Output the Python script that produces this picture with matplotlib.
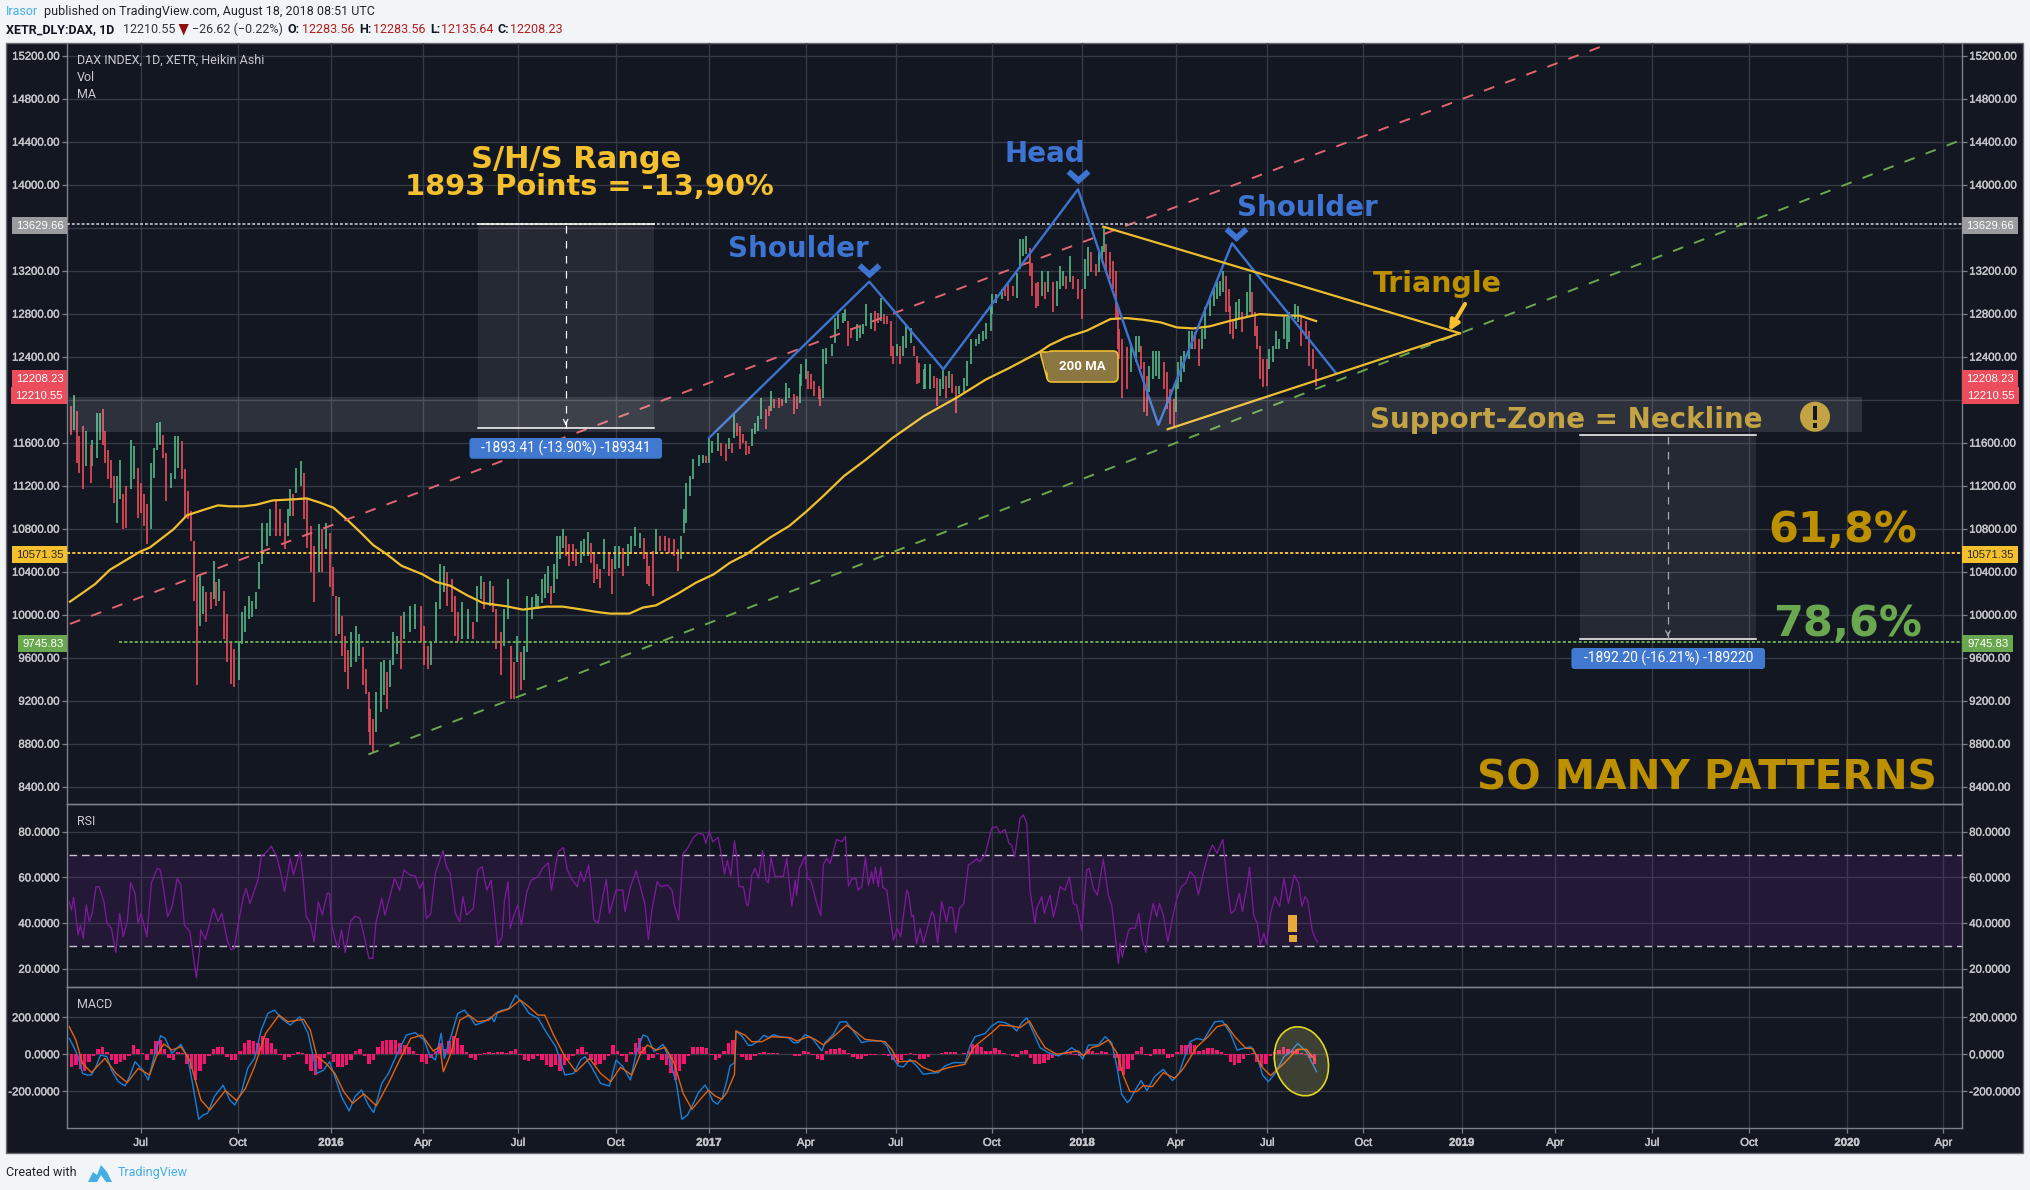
import numpy as np
import matplotlib
matplotlib.use("Agg")
import matplotlib.pyplot as plt
import matplotlib.patheffects as pe
from matplotlib.patches import Rectangle, Circle, Ellipse, FancyBboxPatch, Polygon

W, H = 2030, 1190

# ---------- time axis (trading-bar index) ----------
month_ticks = [49.7, 115.5, 178.4, 240.5, 304.7, 370.7, 433.8, 499.1, 559.9, 624.8, 686.0, 749.1,
               811.0, 875.9, 942.4, 1005.4, 1071.0, 1136.5, 1202.9, 1267.8]
month_labels = ["Jul", "Oct", "2016", "Apr", "Jul", "Oct", "2017", "Apr", "Jul", "Oct", "2018", "Apr",
                "Jul", "Oct", "2019", "Apr", "Jul", "Oct", "2020", "Apr"]
price_ticks = list(range(8400, 15201, 400))
rsi_ticks = [20, 40, 60, 80]
macd_ticks = [-200, 0, 200]

# ---------- candles ----------
candle_bar = [
    3, 5, 7, 8, 11, 13, 16, 17, 20, 22,
    24, 26, 28, 30, 32, 34, 36, 38, 40, 43,
    45, 48, 50, 52, 54, 57, 59, 61, 63, 65,
    67, 70, 73, 75, 78, 80, 82, 84, 86, 88,
    90, 92, 94, 97, 99, 101, 103, 106, 108, 111,
    113, 116, 118, 120, 123, 125, 128, 130, 132, 135,
    137, 141, 144, 147, 149, 151, 153, 155, 158, 160,
    162, 165, 167, 170, 172, 175, 178, 180, 182, 184,
    186, 188, 190, 192, 195, 197, 200, 202, 204, 205,
    207, 209, 212, 214, 216, 218, 220, 223, 226, 228,
    232, 235, 239, 241, 244, 246, 249, 252, 255, 257,
    260, 262, 264, 267, 271, 274, 277, 280, 282, 286,
    288, 290, 293, 295, 298, 300, 302, 304, 307, 309,
    311, 314, 317,
    318, 321, 323, 325, 327, 329, 331, 333, 335, 337,
    339, 342, 344, 347, 349, 352, 354, 356, 358, 360,
    363, 366, 368, 370, 373, 376, 379, 381, 384, 387,
    390, 392, 393, 396, 398, 401, 404, 407, 410, 413,
    415, 417, 418, 421, 423, 427, 430, 432, 434, 436,
    440, 442, 445, 447, 449, 451, 453, 455, 457, 459,
    461, 463, 465, 467, 469, 472, 474, 476, 478, 481,
    483, 486, 488, 491, 493, 495, 496, 499, 501, 503,
    505, 508, 509, 511, 513, 517, 519, 521, 524, 526,
    528, 530, 534, 536, 538, 540, 543, 546, 548, 550,
    552, 554, 557, 558, 561, 563, 565, 567, 570, 572,
    574, 576, 579, 580, 583, 586, 588, 590, 592, 594,
    596, 598, 601, 603, 606, 608, 611, 614, 616, 619,
    621, 624, 625, 628, 632, 634, 636, 639, 642, 644,
    646, 648, 651, 652, 655,
    656, 659, 661, 663, 666, 669, 671, 673, 675, 678,
    680, 683, 686, 688, 690, 692, 695, 697, 699, 701,
    702, 705, 707, 709, 710, 711, 713, 716, 719, 722,
    724, 726, 728, 730, 731, 734, 736, 738, 741, 743,
    745, 748, 749, 751, 753, 755, 758, 760, 762, 765,
    767, 769, 772, 775, 777, 779, 781, 783, 785, 786,
    788, 790, 792, 794, 797, 799, 801, 803, 804, 806,
    808, 811, 812, 815, 817, 819, 822, 824, 826, 830,
    832, 834, 837, 839, 842, 844]
candle_high = [
    11938, 12046, 11891, 11660, 11752, 11706, 11582, 11629, 11876, 11876,
    11913, 11706, 11536, 11443, 11289, 11289, 11443, 11119, 11196, 11629,
    11567, 11366, 11227, 11119, 11026, 11413, 11552, 11783, 11789, 11675,
    11505, 11320, 11660, 11660, 11613, 11351, 11150, 10965, 10686, 10362,
    10377, 10269, 10207, 10207, 10501, 10300, 10331, 10223, 10007, 9744,
    9682, 9759, 10022, 10084, 10177, 10130, 10207, 10486, 10856, 10856,
    10980, 11057, 10980, 10856, 10980, 11165, 11119, 11366, 11428, 11320,
    11073, 10825, 10640, 10841, 10795, 10856, 10764, 10439, 10177, 10161,
    9991, 9806, 9667, 9837, 9898, 9821, 9697, 9497, 9280, 9126,
    9033, 9280, 9558, 9574, 9466, 9574, 9837, 9806, 9991, 10022,
    10084, 10099, 10084, 9898, 9713, 9744, 10115, 10470, 10455, 10393,
    10331, 10177, 10022, 10115, 10053, 9929, 10269, 10362, 10300, 10315,
    10269, 10053, 9837, 10053, 10331, 9713, 9558, 9806, 9651, 9713,
    10177, 10161, 10192,
    10174, 10329, 10376, 10453, 10267, 10468, 10732, 10732, 10794, 10732,
    10655, 10655, 10608, 10686, 10701, 10769, 10670, 10561, 10469, 10422,
    10701, 10561, 10515, 10639, 10639, 10623, 10655, 10732, 10819, 10763,
    10717, 10577, 10453, 10592, 10794, 10732, 10732, 10717, 10701, 10608,
    10732, 10980, 11228, 11290, 11445, 11482, 11482, 11476, 11646, 11615,
    11693, 11600, 11584, 11646, 11600, 11864, 11786, 11755, 11678, 11615,
    11569, 11724, 11786, 11848, 12018, 11910, 11941, 12080, 12003, 12018,
    12003, 12158, 12112, 12050, 12034, 12236, 12329, 12375, 12267, 12236,
    12174, 12127, 12096, 12468, 12483, 12515, 12763, 12794, 12809, 12846,
    12732, 12670, 12701, 12685, 12701, 12886, 12809, 12825, 12809, 12949,
    12794, 12778, 12732, 12499, 12515, 12499, 12592, 12685, 12670, 12499,
    12406, 12344, 12282, 12329, 12329, 12220, 12205, 12189, 12298, 12220,
    12267, 12236, 12127, 12127, 12205, 12360, 12561, 12561, 12608, 12639,
    12716, 12871, 12980, 12980, 13026, 13057, 13072, 13057, 13181, 13497,
    13491, 13522, 13414, 13274, 13088,
    13091, 13200, 13091, 13200, 13091, 13106, 13246, 13200, 13153, 13339,
    13153, 13122, 13029, 13308, 13416, 13370, 13262, 13370, 13432, 13618,
    13447, 13370, 13292, 13200, 12874, 12657, 12564, 12486, 12502, 12595,
    12595, 12502, 12347, 12223, 12316, 12456, 12456, 12456, 12347, 12254,
    12099, 12006, 12161, 12347, 12409, 12456, 12642, 12642, 12626, 12564,
    12657, 12858, 12936, 13029, 13091, 13106, 13200, 13153, 13029, 12874,
    12750, 12905, 12936, 12812, 12998, 13169, 12998, 12812, 12688, 12502,
    12378, 12378, 12471, 12502, 12642, 12564, 12781, 12766, 12812, 12890,
    12874, 12766, 12735, 12642, 12471, 12285]
candle_low = [
    11675, 11722, 11413, 11320, 11165, 11382, 11227, 11382, 11459, 11629,
    11582, 11413, 11258, 11181, 11042, 10856, 11073, 10795, 10810, 11165,
    11258, 10903, 10949, 10825, 10655, 10795, 11273, 11536, 11582, 11459,
    11057, 11181, 11258, 11366, 11258, 10903, 10887, 10686, 10130, 9342,
    9898, 10007, 9929, 10053, 10146, 10084, 10130, 9775, 9558, 9358,
    9327, 9389, 9729, 9837, 9960, 9976, 10053, 10238, 10470, 10640,
    10733, 10733, 10733, 10609, 10733, 10918, 10918, 11134, 11196, 10887,
    10625, 10393, 10115, 10393, 10393, 10609, 10254, 10177, 9806, 9821,
    9620, 9466, 9311, 9512, 9558, 9620, 9342, 9265, 8910, 8786,
    8724, 8910, 9095, 9250, 9126, 9327, 9528, 9636, 9497, 9775,
    9837, 9867, 9744, 9528, 9497, 9528, 9744, 10053, 10207, 10084,
    10022, 9806, 9759, 9775, 9775, 9775, 9929, 10146, 10053, 10084,
    10022, 9682, 9435, 9713, 9960, 9219, 9219, 9558, 9296, 9389,
    9651, 9960, 10053,
    10050, 10112, 10159, 10205, 10096, 10205, 10329, 10515, 10624, 10546,
    10453, 10500, 10453, 10484, 10546, 10546, 10484, 10298, 10329, 10251,
    10422, 10360, 10190, 10422, 10438, 10360, 10453, 10577, 10639, 10623,
    10515, 10283, 10267, 10174, 10577, 10592, 10592, 10577, 10546, 10406,
    10515, 10763, 10856, 11104, 11259, 11383, 11414, 11414, 11414, 11507,
    11522, 11476, 11430, 11538, 11507, 11646, 11662, 11538, 11600, 11482,
    11491, 11569, 11678, 11708, 11817, 11724, 11848, 11894, 11925, 11925,
    11941, 11972, 12018, 11864, 11910, 11972, 12127, 12189, 12096, 12096,
    12034, 12003, 11941, 12018, 12329, 12406, 12530, 12654, 12716, 12732,
    12499, 12577, 12546, 12577, 12608, 12685, 12654, 12639, 12716, 12732,
    12701, 12701, 12406, 12329, 12406, 12329, 12406, 12484, 12530, 12406,
    12143, 12158, 12096, 12096, 12096, 12112, 11941, 12034, 12096, 12018,
    12112, 12065, 11879, 12050, 12050, 12127, 12329, 12499, 12515, 12546,
    12561, 12639, 12794, 12902, 12933, 12964, 12918, 12964, 12949, 13212,
    13336, 13352, 13150, 12964, 12856,
    12874, 12967, 12936, 13000, 12812, 12874, 13029, 13060, 13029, 13091,
    13029, 12936, 12750, 13029, 13153, 13184, 13153, 13184, 13277, 13370,
    13184, 13122, 13029, 12750, 12471, 12378, 12012, 12099, 12254, 12347,
    12440, 12285, 11882, 11851, 12068, 12192, 12223, 12192, 12099, 11913,
    11773, 11758, 11882, 12099, 12161, 12254, 12378, 12471, 12471, 12316,
    12471, 12564, 12781, 12874, 12936, 12967, 12998, 12812, 12812, 12611,
    12564, 12657, 12750, 12626, 12781, 12812, 12781, 12595, 12471, 12192,
    12114, 12130, 12285, 12347, 12471, 12471, 12564, 12471, 12533, 12750,
    12719, 12502, 12564, 12316, 12285, 12130]
candle_dir = (
    "rgrrrgrggg" "rrrrrggrrg" "grrrrggggr" "rgggrrrrrr" "ggrrgrgrrr"
    "rggggggggg" "grrrggrggr" "rrrgrgrrrg" "rrrgggrrrr" "rgggrgggrg"
    "ggrrrggggr" "rrrggrggrg" "rrrggrrgrg" "ggg"
    "ggggrggggr" "rrrgggrrrr" "grrggrgggg" "rrrrgrrrrr" "gggggggrgg"
    "grrgrgrrrr" "rggggrrgrr" "rggrrgggrr" "rrrggggggg" "rrgggggrrg"
    "rrrrgrgggr" "rrgggrrggr" "grrggggggg" "gggggrrrgg" "ggrrr"
    "rgrgrgggrg" "rrrggrrggg" "rrrrrrrrgg" "grrrggggrr" "rrggggggrr"
    "gggggggrrr" "rggrggrrrr" "rrgggggggg" "grrrrr")

# ---------- 200 MA ----------
ma_bar = [2, 11, 19, 29, 38, 49, 56, 72, 81, 92, 102, 110, 119, 128, 139, 153, 162, 171, 180, 189,
          198, 207, 216, 226, 240, 249, 259, 270, 281, 297, 308, 320, 324, 335, 347, 358, 367, 380,
          389, 398, 412, 425, 437, 448, 459, 475, 488, 500, 511, 525, 540, 558, 579, 601, 621, 637,
          657, 664, 675, 689, 705, 716, 727, 739, 750, 761, 772, 786, 799, 806, 820, 833, 844]
ma_value = [10121, 10207, 10285, 10418, 10492, 10584, 10625, 10795, 10924, 10974, 11017, 11008, 11008,
            11023, 11063, 11073, 11082, 11042, 10995, 10887, 10770, 10646, 10563, 10455, 10377, 10306,
            10269, 10183, 10109, 10078, 10047, 10068, 10075, 10075, 10050, 10025, 10010, 10010, 10066,
            10087, 10190, 10298, 10376, 10484, 10562, 10717, 10825, 10965, 11104, 11290, 11445, 11646,
            11848, 12018, 12189, 12297, 12443, 12508, 12580, 12642, 12750, 12759, 12744, 12719, 12672,
            12663, 12682, 12734, 12775, 12796, 12784, 12781, 12731]

# ---------- drawn studies ----------
channel_upper_bar = [2, 1043]
channel_upper_price = [9914, 15318]
channel_lower_bar = [203.6, 1278]
channel_lower_price = [8700, 14406]
hs_bar = [433.8, 542.1, 592.1, 683.1, 737.4, 787.2, 857.2]
hs_price = [11644, 13098, 12283, 13957, 11765, 13455, 12251]
triangle_bar = [700.2, 941.2, 743.7]
triangle_price = [13609, 12618, 11725]
level_high = 13629.66
level_618 = 10571.35
level_786 = 9745.83
zone_bars = [1.6, 1212.6]
zone_prices = [11699, 12022]
measure1_bars = [277.5, 396.4]
measure1_prices = [11736, 13629.66]
measure2_bars = [1022.0, 1141.5]
measure2_prices = [9771, 11669]

# ---------- RSI ----------
rsi_bar = [1.5, 3, 4.5, 7.5, 9, 11, 13, 15, 17, 19.6, 21.7, 25, 27, 30, 33, 35.6, 38, 40.7, 43, 46, 48, 50, 54, 57,
           61, 63, 65, 68, 71, 74.5, 77, 79.3, 83, 87.4, 89.5, 90.4, 93.5, 99, 102, 104.6, 108.5, 111, 113, 115.5,
           119, 121, 123.6, 129, 131.5, 132.7, 135.7, 138, 141.7, 144, 147, 150.8, 153, 157.4, 159.8, 161.6, 164.4,
           167, 169.8, 172.5, 175.8, 177.4, 178.6, 181, 183, 185.5, 188, 191.5, 194.6, 198, 200.6, 204, 206.6, 208.7,
           212.7, 214.8, 217.8, 221.4, 224.7, 227.7, 231.7, 235.3, 238.3, 240.7, 242.8, 245.8, 248.9, 254, 256.4,
           258.8, 262.4, 265.4, 267.5, 270, 274.5, 277.5, 280.5, 283.6, 286.6, 289, 291, 294, 295.6, 298, 299.5,
           301.6, 304.6, 307, 310.7, 313.7, 318.3, 321.2, 325.2, 327.3, 331.8, 335.5, 338, 341.5, 344.8, 347, 349.3,
           352.4, 354.4, 356, 359, 362, 364.4, 366.5, 371, 375.6, 377, 380.7, 384.6, 388, 390.6, 392.8, 395.2, 398.8,
           401.2, 405.8, 408.8, 410.3, 413.3, 416.3, 419.3, 423, 426.2,
           430, 431.6, 434, 436.3, 440, 442.4, 444.2, 446.2, 448.5, 451, 452.5, 454, 457, 459.3, 460.4, 462.7, 465,
           467.2, 470, 472.3, 473.9, 475.7, 478.4, 481.8, 484, 486.3, 489.7, 492, 493, 494.9, 498.7, 500.3, 502.5,
           504.3, 506.6, 509.3, 511, 513.3, 515.6, 520, 523.5, 526, 528, 530.2, 533, 534.5, 537, 539.5, 541.5, 543.7,
           544.9, 546.2, 548.2, 549.8, 551.2, 553.9, 556, 558.4, 561, 563.3, 567.4, 568.5, 570.8, 571.9, 574, 576.4,
           578.6, 581.3, 584.3, 585.8, 588.3, 591, 594.4, 596.2, 598.5, 600.5, 603, 606, 609, 612.4, 614.7, 616.5,
           620.3, 624.8, 628.2, 630.4, 633.8, 636.5, 638.3, 640.3, 642.8, 644, 646.2, 648.5, 650.7, 654, 655.2, 658.6,
           660.4, 662, 664.2, 666.5, 668.7, 671, 674.3, 677.3, 680, 682.2, 685.6, 689, 690.6, 693.5, 696.2, 700.2,
           703.6, 705.9, 710.4, 711.5, 713, 717,
           718.2, 721.8, 724.2, 726.6, 729, 730.9, 733.9, 736.3, 738.1, 740.8, 743.8, 746.9, 749.9, 752.9, 755.9,
           758.9, 762, 764.4, 768, 771, 774, 777, 781, 784, 786.4, 789.1, 792.1, 794.2, 797.2, 799, 801.8, 804.2,
           806.3, 808.7, 810.5, 813.2, 816.3, 819.3, 822.3, 825.3, 829.2, 832.2, 834.4, 836.5, 838.3, 841.3, 843.4,
           844.9]
rsi_value = [49.3, 45.7, 51.2, 34.8, 39.1, 33.3, 47.9, 40.6, 44.2, 55.9, 55.9, 49.3, 39.9, 37.7, 27, 44.2, 34, 40.6,
             57.7, 53, 39.9, 44.2, 34, 57.4, 64, 63.2, 55.9, 42.8, 47.2, 59.6, 56.6, 39.1, 36.2, 16, 28.2, 36.9, 32.8,
             46.4, 40.6, 44.2, 31.8, 28.2, 28.9, 39.1, 50.8, 55.2, 48.6, 58.8, 69.8, 69.8, 71.7, 73.7, 69, 63.2, 53.7,
             68.3, 61, 71.2, 57.4, 42.8, 39.9, 31.8, 49.3, 43.5, 53, 53, 39.9, 33.3, 28.9, 36.9, 27, 40.6, 43, 42,
             34.8, 24.5, 24.5, 39.9, 50.8, 43.5, 50.8, 59.6, 54.4, 63.2, 61, 60.6, 55.2, 58.1, 42, 44.2, 61.8, 71.7,
             64.7, 61.8, 44.2, 40.6, 51.5, 43.5, 46.4, 63.2, 64.7, 54.4, 58.8, 44.2, 30.4, 34, 50, 58.1, 37.7, 42.8,
             47.9, 39.1, 53.7, 58.8, 60.3, 63.9, 66.4, 54.4, 71.2, 73.1, 63.2, 58.8, 55.9, 62.5, 58.1, 65.4, 54.4,
             41.3, 39.9, 51.5, 59.1, 44.2, 54.4, 54.4, 45, 55.9, 62.9, 54.4, 47.9, 32.8, 45.7, 58.1, 55.9, 56.6, 54.4,
             47.9, 41.3, 70.5, 72.7, 77.1, 79.3,
             78.8, 74.9, 80.3, 75.6, 77.5, 69, 61.4, 67.3, 60.5, 76, 69, 55.9, 55.9, 47.8, 47.8, 61, 63.9, 59.5, 71.7,
             58.8, 57.6, 68.7, 60.3, 60.5, 60.3, 68.3, 47.4, 58.8, 52.2, 63.9, 69.3, 59.5, 58.8, 54.4, 48.5, 43.1, 65.4,
             68.3, 66.1, 76.6, 75.6, 77.8, 56.2, 59.2, 59.5, 54.4, 55.9, 68.7, 56.6, 62.4, 57.3, 64.6, 55.9, 64.6, 55.6,
             54.4, 44.2, 32.5, 37.6, 33.9, 54.4, 52.9, 42.7, 43.4, 31, 37.6, 31.3, 37.6, 44.9, 43.4, 31.3, 49.3, 40.5,
             47.1, 46.4, 35.8, 46.4, 48.5, 65.4, 66.8, 68.3, 66.8, 69.8, 81.5, 82.2, 79.3, 81, 74.9, 74.1, 69, 80.7,
             85.9, 87.3, 83.7, 54.4, 39.8, 46.4, 51.5, 44.2, 47.8, 52.2, 42.7, 48.5, 55.9, 54.4, 60.3, 48.5, 47.8, 36.8,
             63.2, 63.9, 55.1, 52.2, 67.9, 52.2, 47.8, 22.2, 31, 25.1, 36.1,
             37.7, 37.7, 44.2, 32.6, 27.2, 38.4, 48.6, 42.8, 48.6, 43.5, 31.8, 42, 50.8, 55.9, 57.4, 62.5, 60.3, 52.3,
             62.5, 69.8, 74.2, 70.5, 76.6, 56.6, 44.2, 45.7, 53, 45, 55.9, 64.4, 43.5, 39.9, 30.4, 35.5, 30.8, 44.2,
             51.5, 47.2, 59.6, 48.6, 61, 57.4, 47.2, 51.5, 50, 36.9, 33.3, 31.8]

# ---------- MACD ----------
macd_bar = [1.5, 4.5, 7.5, 10.5, 13.5, 16.5, 19.6, 22.6, 27, 30, 34.7, 39.2, 42.2, 46, 51.2, 54.9, 58.8, 63.3, 66.3,
            70.9, 76.9, 81.4, 84.4, 89, 92, 95, 99.5, 105.5, 110, 113.4, 117.6, 122.1, 126.7, 131.2, 135.7, 140.2,
            144.8, 150.8, 157.4, 162.9, 165.9, 168.9, 173.4, 177.4, 181, 185.5, 190.6, 194.6, 199, 203.6, 207.2,
            212.7, 217.2, 223.2, 229.3, 235.3, 241.3, 245, 248.9, 252.8, 254.9, 259.4, 264, 268.5, 273, 276, 282,
            286.6, 288.7, 291, 298.6, 303.2, 307.7, 312.2, 318.3, 324.3, 330.3, 336.4, 342.4, 347, 350, 354.4, 360.5,
            366.5, 371, 375.6, 380.7, 384.6, 389.2, 392.2, 396.7, 402.7, 407.3, 411.8, 415.4, 419.3, 423.8,
            426.6, 431.1, 433.4, 436.3, 439.5, 442.8, 445.8, 448, 451, 452, 455.9, 460.4, 462.7, 467.2, 471, 473.9,
            477.3, 481.8, 487.4, 490.8, 494.2, 498.7, 503.2, 506.6, 510, 512.2, 517.8, 522.3, 526.4, 531.3, 537,
            541.5, 550.5, 553.9, 557.2, 561.8, 565.1, 569.6, 574.1, 578.6, 583.1, 588.8, 593.3, 598.9, 606.8, 610.2,
            613.5, 620.3, 624.8, 629.3, 633.8, 638.3, 641.7, 645.1, 648.5, 653, 657.5, 663.1, 669.9, 674.3, 678.9,
            683.4, 686.3, 690.1, 696.9, 701.4, 705.9, 709.3, 712.6, 716.5,
            718.2, 721.2, 725.7, 729.7, 734.8, 740.8, 746.9, 751.4, 754.4, 758.9, 763.5, 768, 775.5, 780.7, 786.1,
            790.6, 799.7, 804.2, 807.8, 811.7, 816.3, 822.3, 826.8, 831.6, 837.4, 844.3]
macd_value = [86, 41, -13, -103, -112, -112, -67, -4, -13, -85, -148, -171, -121, -40, -85, -139, -13, 101, 86,
              5, 54, -13, -139, -351, -328, -319, -229, -167, -247, -274, -211, -76, -22, 131, 221, 239,
              194, 158, 203, 113, 5, -103, -85, -40, -121, -229, -306, -229, -193, -274, -315,
              -157, -103, 5, 104, 117, 77, -4, -31, 113, -22, 95, 221, 239, 194, 158, 176,
              203, 176, 230, 248, 320, 275, 221, 194, 113, 41, -112, -103, -31, -13, -67, -157,
              -171, -31, -67, -139, 5, 104, 95, 14, 54, -31, -157, -351, -328, -256,
              -207, -166, -198, -252, -270, -234, -144, -63, -45, 126, 99, 49, 49, 72, 103, 90,
              106, 95, 90, 63, 63, 106, 90, 54, 18, 63, 108, 175, 176, 126, 63,
              72, 72, 45, -9, -63, -68, -27, -63, -108, -103, -99, -63, -45, -45, 45,
              95, 112, 153, 176, 171, 153, 126, 171, 198, 117, 36, 9, -9, 9, 36,
              9, -27, 50, 50, 95, 63, -63, -216, -261,
              -247, -202, -142, -196, -121, -81, -142, -103, -31, 68, 86, 77, 176, 180, 113,
              23, 41, -13, -112, -148, -103, -13, 14, 59, 14, -94]
signal_bar = [1.5, 6, 10.5, 16.5, 25.6, 33.1, 40.7, 48.2, 55.8, 60.3, 65.4, 70.9, 76.9, 82.9, 90.5, 96.5, 101, 107,
              114.6, 120.6, 126.7, 134.2, 143.3, 149.3, 159.9, 164.4, 168.9, 175, 181, 187, 193, 200.6, 209, 217.2,
              224.7, 232.3, 239.8, 247.4, 251.9, 254.3, 259.4, 265.4, 271.5, 277.5, 285, 289.6, 298.6, 306.2, 310.7,
              318.3, 322.8, 328.8, 336.4, 343.9, 353, 360.5, 367.4, 374, 381.6, 387.6, 392.2, 398.2, 404.2, 410.3,
              416.3, 422.3,
              428.9, 433.4, 437.9, 442.4, 445.8, 451, 452, 458.2, 462.7, 469.4, 476.2, 488.6, 493.1, 500.9, 505.4,
              511.1, 517.8, 526.8, 533.6, 539.2, 552.7, 557.2, 561.8, 573, 578.6, 586.5, 595.5, 606.8, 612.4, 619.2,
              624.8, 630.4, 638.3, 643.9, 650.3, 655.2, 660.8, 668.7, 675.5, 683.4, 686.7, 692.4, 696.9, 703.6, 709.3,
              713.8,
              718.2, 722.7, 727.2, 733.3, 740.8, 748.4, 754.4, 763.5, 771, 777, 783.1, 789.1, 796.6, 801.2, 807.2,
              813.2, 822.3, 831.3, 837.4, 843.4]
signal_value = [149, 77, -49, -99, -22, -103, -153, -76, -112, -13, 56, 23, 41, -31, -247, -301, -256, -196,
                -250, -184, -67, 113, 212, 176, 189, 131, -13, -49, -103, -202, -265, -214, -279, -157,
                -31, 86, 104, 18, 41, -94, 5, 185, 212, 176, 185, 221, 245, 293, 266,
                212, 212, 104, -13, -94, -22, -103, -148, -70, -112, 5, 50, 23, 38, -49,
                -211, -297,
                -234, -194, -225, -243, -207, -108, 126, 103, 68, 68, 95, 90, 72, 95, 81,
                50, 95, 158, 117, 81, 68, 27, -40, -36, -72, -95, -72, -54, 36, 81,
                117, 158, 153, 144, 180, 108, 36, 0, 9, 18, -9, 36, 45, 77, 9,
                -117,
                -202, -202, -169, -175, -99, -130, -76, 41, 95, 149, 162, 95, 32, 32, -67,
                -115, -49, 27, 27, -31]
hist_value = [-70, -60, -80, -90, -40, -10, 30, 40, 10, -30, -50, -40, -30, -10, 50, 30, 5, -30, 30, 70,
              80, 30, -20, -30, 10, 5, -50, -80, -140, -90, -50, -10, 30, 40, 40, -15, -30, -30, 20, 60,
              80, 70, 60, 100, 90, 60, 30, -5, -30, -15, -5, 10, 5, -50, -90, -110, -80, -20, 10, -40,
              -70, -70, -60, -30, 20, 30, -10, -50, -30, 40, 70, 80, 80, 80, 60, 50, 40, 20, -5, -40,
              -50, -20, 20, 60, 30, 70, 100, 90, 50, 10, -20, -30, -5, 5, 15, 5, 10, 10, 5, 20,
              30, -5, -30, -35, -25, -10, -30, -60, -70, -60, -90, -60, -30, -10, 30, 40, 10, -30, -60, -50,
              -30, -10, 50, 20, -10, -40, 10, 60, 90, 40, -30, -20, 5, -30, -60, -100, -140, -90, -50, -10, 40,
              40, 40, 35, -5, -30, -20, 20, 60, 80, 0, -15, -30, -30, -10, 5, 15, 5, 5, 5, 2,
              2, 0, -10, -10, 20, 10, -5, -25, -30, 20, 30, 30, 35, 25, 5, -15, -25, -25, -10, -5,
              -2, 2, -2, -10, -30, -50, -30, -5, 5, -5, -25, -25, -15, 0, 2, 5, 15, 15, 10, 2,
              5, 20, 55, 50, 40, 20, 20, 35, 25, 5, 2, -10, -15, 20, 25, -20, -50, -55, -45, -30,
              -20, -10, 5, 10, 15, -5, -10, -5, 30, 20, 5, 20, 15, 0, -20, -90, -110, -80, -30, 20,
              40, -5,
              -10, 30, 30, 30, -20, -15, 10, 50, 50, 60, 50, 20, 25, 35, 35, 25, 10, -5, -40, -60,
              -45, -25, -5, 5, -40, -70, -50, -10, 10, 25, 40, 30, 25, 30, 5, -5, -20, -55]

# ---------- palette ----------
PAGE = "#f2f5f8"
PANEL = "#131722"
GRID = "#363a47"
SPINE = "#7e8088"
TICK = "#c4c5ca"
UP = "#53b987"
DOWN = "#eb4d5c"
GOLD = "#f5c02e"
DARKGOLD = "#bd9000"
LEAF = "#6aa84f"
BLUE = "#3d74d1"
LINK = "#45aee6"

plt.rcParams["font.family"] = ["Liberation Sans", "DejaVu Sans"]
fig = plt.figure(figsize=(W / 100, H / 100), dpi=100, facecolor=PAGE)
heavier = [pe.withStroke(linewidth=0.3, foreground=TICK)]


def panel(top, bottom, zorder=2):
    return fig.add_axes([67 / W, 1 - bottom / H, (1962 - 67) / W, (bottom - top) / H],
                        facecolor="none", zorder=zorder)


def full(zorder):
    a = fig.add_axes([0, 0, 1, 1], facecolor="none", zorder=zorder)
    a.set_xlim(0, W)
    a.set_ylim(H, 0)
    a.axis("off")
    return a


bg = full(0)
bg.add_patch(Rectangle((6, 43), 2017, 1110, fc=PANEL, ec="#6a6c72", lw=1))

ax = panel(43, 804)
ax_rsi = panel(804, 987)
ax_macd = panel(987, 1128)
XMAX = (1962 - 67) / 1.48
for a in (ax, ax_rsi, ax_macd):
    a.set_xlim(0, XMAX)
    a.set_xticks(month_ticks)
    a.grid(True, color=GRID, lw=0.95, zorder=0)
    a.set_axisbelow(True)
    a.tick_params(axis="y", left=True, right=True, labelleft=True, labelright=True,
                  length=3.6, width=0.9, color=SPINE, labelcolor=TICK, labelsize=8.2, pad=1.6)
    a.tick_params(axis="x", length=0, labelbottom=False)
    for s in a.spines.values():
        s.set_color(SPINE)
        s.set_linewidth(1.0)
ax.spines["top"].set_visible(False)

# ----- price panel -----
ax.set_ylim(8239, 15318)
ax.set_yticks(price_ticks)
ax.set_yticklabels([f"{v:.2f}" for v in price_ticks])

for col, key in ((UP, "g"), (DOWN, "r")):
    sel = [i for i, c in enumerate(candle_dir) if c == key]
    ax.vlines([candle_bar[i] for i in sel], [candle_low[i] for i in sel], [candle_high[i] for i in sel],
              colors=col, lw=1.2, zorder=3)
ax.plot(ma_bar, ma_value, color="#f0bf2f", lw=1.6, zorder=4)

ax.plot(channel_upper_bar, channel_upper_price, color="#e0656f", lw=1.4, ls=(0, (5.6, 6)), zorder=4)
ax.plot(channel_lower_bar, channel_lower_price, color=LEAF, lw=1.4, ls=(0, (5.6, 6)), zorder=4)
ax.plot([0, XMAX], [level_high] * 2, color="#b9babe", lw=1.3, ls=(0, (1.6, 1.1)), zorder=4)
ax.plot([0, XMAX], [level_618] * 2, color=GOLD, lw=1.4, ls=(0, (1.6, 1.1)), zorder=4)
ax.plot([35, XMAX], [level_786] * 2, color=LEAF, lw=1.4, ls=(0, (1.6, 1.1)), zorder=4)
ax.plot(hs_bar, hs_price, color=BLUE, lw=1.7, zorder=5)
ax.plot(triangle_bar[:2], triangle_price[:2], color="#ecbc30", lw=1.6, zorder=5)
ax.plot(triangle_bar[1:], triangle_price[1:], color="#ecbc30", lw=1.6, zorder=5)

ax.add_patch(Rectangle((zone_bars[0], zone_prices[0]), zone_bars[1] - zone_bars[0], zone_prices[1] - zone_prices[0],
                       fc="white", alpha=0.115, ec="none", zorder=6))
for bars, prices, dash in ((measure1_bars, measure1_prices, "white"), (measure2_bars, measure2_prices, "#a8a9ad")):
    ax.add_patch(Rectangle((bars[0], prices[0]), bars[1] - bars[0], prices[1] - prices[0],
                           fc="white", alpha=0.08, ec="none", zorder=6))
    mid = (bars[0] + bars[1]) / 2
    ax.plot(bars, [prices[0]] * 2, color="white", lw=1.1, zorder=7)
    ax.plot(bars, [prices[1]] * 2, color="white", lw=1.1, zorder=7)
    ax.plot([mid, mid], prices, color=dash, lw=0.9, ls=(0, (6, 6)), zorder=7)
    ax.annotate("", xy=(mid, prices[0]), xytext=(mid, prices[0] + 70),
                arrowprops=dict(arrowstyle="->", color=dash, lw=0.9, mutation_scale=8), zorder=7)

# ----- RSI panel -----
ax_rsi.set_ylim(11.98, 92.13)
ax_rsi.set_yticks(rsi_ticks)
ax_rsi.set_yticklabels([f"{v:.4f}" for v in rsi_ticks])
ax_rsi.axhspan(30, 70, xmin=1.5 / XMAX, color="#7b1fa2", alpha=0.16, lw=0, zorder=1)
ax_rsi.plot([1.5, XMAX], [70, 70], color="#c9c3d2", lw=1, ls=(0, (5.5, 3.5)), zorder=2)
ax_rsi.plot([1.5, XMAX], [30, 30], color="#c9c3d2", lw=1, ls=(0, (5.5, 3.5)), zorder=2)
ax_rsi.plot(rsi_bar, rsi_value, color="#7d1a9b", lw=0.95, zorder=3)

# ----- MACD panel -----
ax_macd.set_ylim(-398.4, 363.8)
ax_macd.set_yticks(macd_ticks)
ax_macd.set_yticklabels([f"{v:.4f}" for v in macd_ticks])
hist_bar = np.arange(len(hist_value)) * 3 + 3
ax_macd.bar(hist_bar, hist_value, width=2.3, color="#f5146e", lw=0, zorder=2)
ax_macd.plot(macd_bar, macd_value, color="#1a80d6", lw=1.0, zorder=3)
ax_macd.plot(signal_bar, signal_value, color="#e0630f", lw=1.0, zorder=4)
ax_macd.tick_params(axis="x", labelbottom=True, bottom=True, length=3.6, width=0.9, color=SPINE,
                    labelcolor=TICK, labelsize=8.2, pad=3.5)
ax_macd.set_xticklabels(month_labels)
for lab, text in zip(ax_macd.get_xticklabels(), month_labels):
    if text.isdigit():
        lab.set_fontweight("bold")
for a in (ax, ax_rsi, ax_macd):
    for lab in a.get_yticklabels() + a.get_yticklabels(which="major") + a.get_xticklabels():
        lab.set_path_effects(heavier)
    for t in a.yaxis.get_major_ticks():
        t.label2.set_path_effects(heavier)

# ----- overlay: tags, texts, marks -----
fg = full(10)
ROB = "Roboto"
DJ = "DejaVu Sans"


def tag(x0, x1, y0, y1, text, fc, tc="white"):
    fg.add_patch(Rectangle((x0, y0), x1 - x0, y1 - y0, fc=fc, ec="none"))
    fg.text((x0 + x1) / 2, (y0 + y1) / 2 + 0.5, text, color=tc, fontsize=8.2, ha="center", va="center",
            family="Liberation Sans")


for x0, x1 in ((12, 67.4), (1962.3, 2018)):
    tag(x0, x1, 217, 233.7, "13629.66", "#9a9b9e")
    tag(x0, x1, 370, 386.7, "12208.23", DOWN)
    tag(x0 - (1 if x0 < 100 else 0), x1 + (0 if x0 < 100 else 1), 387, 403.7, "12210.55", DOWN)
    tag(x0, x1, 546, 562.7, "10571.35", GOLD, "#2a2a2a")
tag(18, 67.4, 635, 651.7, "9745.83", LEAF)
tag(1962.3, 2013, 635, 651.7, "9745.83", LEAF)

# header
txt = dict(fontsize=9, va="center", family=ROB)
fg.text(6, 11.7, "Irasor", color=LINK, **txt)
fg.text(44, 11.7, "published on TradingView.com, August 18, 2018 08:51 UTC", color="#20232b", **txt)
fg.text(6, 29.7, "XETR_DLY:DAX, 1D", color="#131722", fontweight="bold", **txt)
fg.text(122.8, 29.7, "12210.55", color="#30333b", **txt)
fg.add_patch(Polygon([(178.6, 24), (188.8, 24), (183.7, 35.5)], fc="#8f0f0f", ec="none"))
fg.text(192, 29.7, "\u221226.62 (\u22120.22%)", color="#30333b", **txt)
for x, s in ((288, "O:"), (359.4, "H:"), (430, "L:"), (498, "C:")):
    fg.text(x, 29.7, s, color="#131722", fontweight="bold", **txt)
for x, s in ((302, "12283.56"), (372.8, "12283.56"), (441, "12135.64"), (510, "12208.23")):
    fg.text(x, 29.7, s, color="#b71c1c", **txt)

# panel captions
fg.text(77, 60.7, "DAX INDEX, 1D, XETR, Heikin Ashi", color="#c8cad0", **txt)
fg.text(77, 77.7, "Vol", color="#c8cad0", **txt)
fg.text(77, 94.7, "MA", color="#c8cad0", **txt)
fg.text(77, 821.7, "RSI", color="#c8cad0", **txt)
fg.text(77, 1004.7, "MACD", color="#c8cad0", **txt)

# footer
fg.text(6, 1172.5, "Created with", color="#20232b", **txt)
fg.add_patch(Polygon([(88, 1182), (93, 1172), (97, 1175), (101, 1165), (107, 1172), (112, 1182), (106, 1182),
                      (101, 1175), (97, 1182)], fc=LINK, ec="none"))
fg.text(118, 1172.5, "TradingView", color=LINK, **txt)

# big annotations
big = dict(family=DJ, fontweight="bold", ha="center", va="center")
fg.text(576, 159, "S/H/S Range", color=GOLD, fontsize=22, **big)
fg.text(589, 187, "1893 Points = -13,90%", color=GOLD, fontsize=20.8, **big)
fg.text(798, 248.7, "Shoulder", color=BLUE, fontsize=20, **big)
fg.text(1045, 154, "Head", color=BLUE, fontsize=20, **big)
fg.text(1307, 207.7, "Shoulder", color=BLUE, fontsize=20, **big)
fg.text(1437, 284, "Triangle", color=DARKGOLD, fontsize=20.5, **big)
fg.text(1566, 419.5, "Support-Zone = Neckline", color="#c3a344", fontsize=20, **big)
fg.text(1843, 530.5, "61,8%", color=DARKGOLD, fontsize=31, **big)
fg.text(1848, 623.5, "78,6%", color=LEAF, fontsize=31, **big)
fg.text(1706.7, 778, "SO MANY PATTERNS", color=DARKGOLD, fontsize=29.2, **big)

for cx, cy in ((869.5, 265.5), (1078.5, 171.5), (1236.5, 229)):
    fg.plot([cx - 10, cx, cx + 10], [cy, cy + 9, cy], color=BLUE, lw=4.2, solid_joinstyle="miter", solid_capstyle="butt")

fg.annotate("", xy=(1449, 331), xytext=(1465, 304),
            arrowprops=dict(arrowstyle="-|>", color=GOLD, lw=3, mutation_scale=14, shrinkA=0, shrinkB=0))

fg.add_patch(Circle((1815, 416.7), 15, fc="#c3a344", ec="none"))
fg.add_patch(Rectangle((1813, 406), 4.5, 14, fc=PANEL, ec="none"))
fg.add_patch(Rectangle((1813, 423), 4.5, 4.5, fc=PANEL, ec="none"))

# measure labels
for x0, x1, y0, y1, s in ((469.5, 662, 438, 458.7, "-1893.41 (-13.90%) -189341"),
                          (1571.4, 1765, 648, 669, "-1892.20 (-16.21%) -189220")):
    fg.add_patch(FancyBboxPatch((x0 + 3, y0 + 3), x1 - x0 - 6, y1 - y0 - 6, boxstyle="round,pad=3",
                                fc="#4279d0", ec="none"))
    fg.text((x0 + x1) / 2, (y0 + y1) / 2, s, color="white", fontsize=10, ha="center", va="center", family=ROB)

# MA callout
fg.add_patch(FancyBboxPatch((1052, 356), 61, 21, boxstyle="round,pad=5", fc="#8a7741", ec="#f0bf2f", lw=1.2))
fg.add_patch(Polygon([(1040, 352), (1049, 352), (1052, 378), (1047, 372)], fc="#8a7741", ec="none"))
fg.plot([1047, 1040, 1047], [378, 352, 352], color="#f0bf2f", lw=1.2)
fg.text(1082.5, 366.5, "200 MA", color="white", fontsize=9.5, fontweight="bold", ha="center", va="center", family=ROB)

# RSI exclamation
fg.add_patch(Rectangle((1288.5, 915), 8.5, 16.7, fc="#e8a93c", ec="none"))
fg.add_patch(Rectangle((1288.7, 935), 8, 6.7, fc="#e8a93c", ec="none"))

# MACD highlight
fg.add_patch(Ellipse((1301.4, 1061.3), 53, 70, angle=-15, fc=(0.95, 0.9, 0.5, 0.2), ec="#dfd81f", lw=1.2))

fig.savefig("out.png", dpi=100, facecolor=PAGE)
